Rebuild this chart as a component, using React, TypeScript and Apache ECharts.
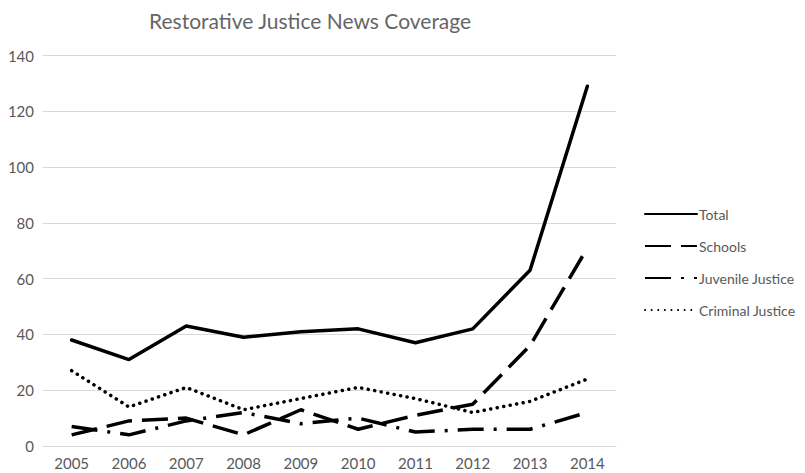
import React, { useEffect, useRef } from "react";
import * as echarts from "echarts";

const years = ["2005", "2006", "2007", "2008", "2009", "2010", "2011", "2012", "2013", "2014"];
const total = [38, 31, 43, 39, 41, 42, 37, 42, 63, 129];
const schools = [4, 9, 10, 4, 13, 6, 11, 15, 36, 71];
const juvenile = [7, 4, 9, 12, 8, 10, 5, 6, 6, 12];
const criminal = [27, 14, 21, 13, 17, 21, 17, 12, 16, 24];

const FONT = "Lato";
const GREY = "#595959";

export default function App() {
  const ref = useRef<HTMLDivElement>(null);
  useEffect(() => {
    const chart = echarts.init(ref.current!, null, { renderer: "svg" });
    const mk = (name: string, data: number[], type: any, cap: any = "butt") => ({
      name,
      type: "line",
      data,
      symbol: "none",
      lineStyle: { color: "#000", width: 3.5, type, cap },
      itemStyle: { color: "#000" },
    });
    chart.setOption({
      animation: false,
      title: {
        text: "Restorative Justice News Coverage",
        left: 144,
        top: 5,
        textStyle: { fontFamily: FONT, fontSize: 21, fontWeight: "normal", color: "#666" },
      },
      grid: { left: 43, right: 805 - 616, top: 55.5, bottom: 27, containLabel: false },
      legend: {
        orient: "vertical",
        left: 639,
        top: 202,
        itemWidth: 52,
        itemHeight: 14,
        itemGap: 18,
        itemStyle: { opacity: 0 },
        textStyle: { fontFamily: FONT, fontSize: 14, color: GREY, padding: [0, 0, 0, -3] },
        data: ["Total", "Schools", "Juvenile Justice", "Criminal Justice"],
      },
      xAxis: {
        type: "category",
        data: years,
        boundaryGap: true,
        axisLine: { show: true, lineStyle: { color: "#d9d9d9", width: 1 } },
        axisTick: { show: false },
        axisLabel: { fontFamily: FONT, fontSize: 15, color: GREY, margin: 9 },
      },
      yAxis: {
        type: "value",
        min: 0,
        max: 140,
        interval: 20,
        axisLine: { show: false },
        axisTick: { show: false },
        splitLine: { lineStyle: { color: "#d9d9d9", width: 1 } },
        axisLabel: { fontFamily: FONT, fontSize: 15, color: GREY, margin: 9 },
      },
      series: [
        mk("Total", total, "solid", "round"),
        mk("Schools", schools, [26, 10]),
        mk("Juvenile Justice", juvenile, [26, 10, 3, 10]),
        mk("Criminal Justice", criminal, [0.1, 6.5], "round"),
      ],
    });
    return () => chart.dispose();
  }, []);
  return <div ref={ref} style={{ width: 805, height: 473, position: "absolute", left: 0, top: 0 }} />;
}
